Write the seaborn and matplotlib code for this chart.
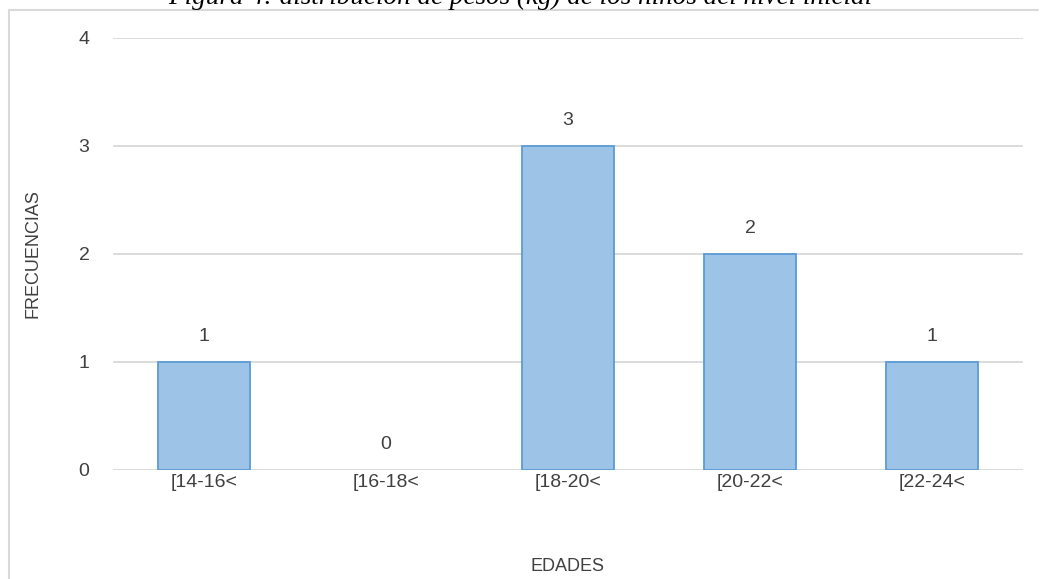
import matplotlib
matplotlib.use("Agg")
import matplotlib.pyplot as plt
import seaborn as sns
import pandas as pd
from matplotlib.lines import Line2D

# Frequency table of weight intervals
intervalos = ["[14-16<", "[16-18<", "[18-20<", "[20-22<", "[22-24<"]
frecuencias = [1, 0, 3, 2, 1]
ticks_y = [0, 1, 2, 3, 4]

titulo = "Figura 4: distribución de pesos (kg) de los niños del nivel inicial"

df = pd.DataFrame({"intervalo": intervalos, "frecuencia": frecuencias})

sns.set_theme(style="white")
plt.rcParams["font.family"] = ["Liberation Sans Narrow", "Liberation Sans", "DejaVu Sans"]

W, H = 1040, 579
fig = plt.figure(figsize=(W / 100, H / 100), dpi=100)
fig.patch.set_facecolor("white")

# plot area in pixel terms
left, right, top, bottom = 113, 1023, 38, 470
ax = fig.add_axes([left / W, 1 - bottom / H, (right - left) / W, (bottom - top) / H])

sns.barplot(data=df, x="intervalo", y="frecuencia", ax=ax, width=0.505,
            color="#9dc3e6", saturation=1, edgecolor="#5b9bd5", linewidth=1.3,
            zorder=3)

# an empty class draws no outline
for patch, v in zip(ax.containers[0], frecuencias):
    if v == 0:
        patch.set_linewidth(0)

ax.set_ylim(0, 4)
ax.set_xlim(-0.5, len(intervalos) - 0.5)
ax.set_yticks(ticks_y)
ax.yaxis.grid(True, color="#d9d9d9", linewidth=1.3, zorder=0)
ax.set_axisbelow(True)
for s in ax.spines.values():
    s.set_visible(False)
ax.tick_params(axis="both", length=0, labelsize=14, colors="#404040")
ax.tick_params(axis="y", pad=17)
ax.tick_params(axis="x", pad=3)

ax.bar_label(ax.containers[0], labels=[str(v) for v in frecuencias],
             padding=12, fontsize=14, color="#404040")

ax.set_xlabel("EDADES", fontsize=13, color="#404040")
ax.set_ylabel("FRECUENCIAS", fontsize=13, color="#404040")
ax.yaxis.set_label_coords((42 - left) / (right - left), 0.5)
ax.xaxis.set_label_coords(0.5, -(558 - bottom) / (bottom - top))

# chart frame (top and left edges)
fig.add_artist(Line2D([8.5 / W, 8.5 / W], [0, 1 - 10 / H], transform=fig.transFigure,
                      color="#d9d9d9", linewidth=1.5))
fig.add_artist(Line2D([8.5 / W, 1038 / W], [1 - 10 / H, 1 - 10 / H], transform=fig.transFigure,
                      color="#d9d9d9", linewidth=1.5))

# caption above the chart, cut by the top edge
fig.text(520 / W, 1 - 4 / H, titulo, ha="center", va="baseline",
         family=["Liberation Serif", "DejaVu Serif"], style="italic",
         fontsize=19.5, color="#000000")

fig.savefig("out.png", dpi=100)
